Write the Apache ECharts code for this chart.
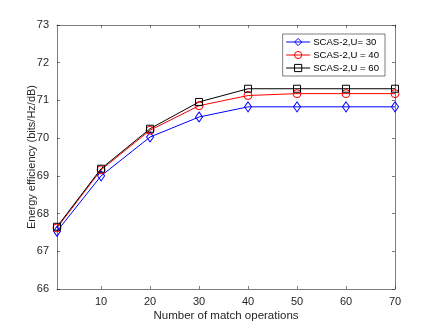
<!DOCTYPE html>
<html>
<head>
<meta charset="utf-8">
<script src="https://cdn.jsdelivr.net/npm/echarts@6/dist/echarts.min.js"></script>
<style>
html, body { margin: 0; padding: 0; background: #fff; }
#main { width: 436px; height: 327px; }
</style>
</head>
<body>
<div id="main"></div>
<script>
var ops = [1, 10, 20, 30, 40, 50, 60, 70];
var u30 = [67.53, 69.0, 70.03, 70.56, 70.83, 70.83, 70.83, 70.83];
var u40 = [67.62, 69.16, 70.21, 70.86, 71.13, 71.18, 71.18, 71.18];
var u60 = [67.65, 69.19, 70.25, 70.96, 71.31, 71.31, 71.31, 71.31];
var xTicks = [10, 20, 30, 40, 50, 60, 70];

function pairs(v) {
    return ops.map(function (x, i) { return [x, v[i]]; });
}

var axisGrey = '#262626';
var font = 'Liberation Sans, Arial, sans-serif';

var myChart = echarts.init(document.getElementById('main'));

function line(name, data, color, symbol, size) {
    return {
        name: name,
        type: 'line',
        data: pairs(data),
        symbol: symbol,
        symbolSize: size,
        showSymbol: true,
        lineStyle: { color: color, width: 1 },
        itemStyle: { color: 'rgba(0,0,0,0)', borderColor: color, borderWidth: 1 },
        emphasis: { disabled: true },
        animation: false
    };
}

var xBase = {
    type: 'value', min: 1, max: 70,
    splitLine: { show: false },
    axisLine: { lineStyle: { color: axisGrey, width: 0.6 } },
    axisTick: { inside: true, length: 3, customValues: xTicks, lineStyle: { color: axisGrey, width: 0.6 } },
    axisLabel: { customValues: xTicks, color: axisGrey, fontSize: 11, fontFamily: font, margin: 7 }
};
var yBase = {
    type: 'value', min: 66, max: 73, interval: 1,
    splitLine: { show: false },
    axisLine: { show: true, lineStyle: { color: axisGrey, width: 0.6 } },
    axisTick: { inside: true, length: 3, lineStyle: { color: axisGrey, width: 0.6 } },
    axisLabel: { color: axisGrey, fontSize: 11, fontFamily: font, margin: 8 }
};

myChart.setOption({
    backgroundColor: '#fff',
    animation: false,
    grid: { left: 57, right: 41, top: 25, bottom: 36 },
    legend: {
        right: 51, top: 34,
        orient: 'vertical',
        itemGap: 3,
        itemWidth: 24, itemHeight: 9,
        padding: [3, 6, 3, 3],
        backgroundColor: '#fff',
        borderColor: axisGrey,
        borderWidth: 0.6,
        itemStyle: { color: 'rgba(0,0,0,0)', borderWidth: 1 },
        lineStyle: { width: 1 },
        textStyle: { color: '#000', fontSize: 9.6, fontFamily: font, padding: [0, 0, 0, -2] },
        data: ['SCAS-2,U= 30', 'SCAS-2,U = 40', 'SCAS-2,U = 60']
    },
    xAxis: [
        Object.assign({}, xBase, {
            name: 'Number of match operations',
            nameLocation: 'middle', nameGap: 21, nameMoveOverlap: false,
            nameTextStyle: { color: axisGrey, fontSize: 11.5, fontFamily: font }
        }),
        Object.assign({}, xBase, { position: 'top', axisLabel: { show: false } })
    ],
    yAxis: [
        Object.assign({}, yBase, {
            name: 'Energy efficiency (bits/Hz/dB)',
            nameLocation: 'middle', nameGap: 20, nameMoveOverlap: false,
            nameTextStyle: { color: axisGrey, fontSize: 11, fontFamily: font }
        }),
        Object.assign({}, yBase, { position: 'right', axisLabel: { show: false } })
    ],
    series: [
        line('SCAS-2,U= 30', u30, '#0000ff', 'diamond', [7, 10]),
        line('SCAS-2,U = 40', u40, '#ff0000', 'circle', 8),
        line('SCAS-2,U = 60', u60, '#000000', 'rect', 7)
    ]
});
</script>
</body>
</html>
